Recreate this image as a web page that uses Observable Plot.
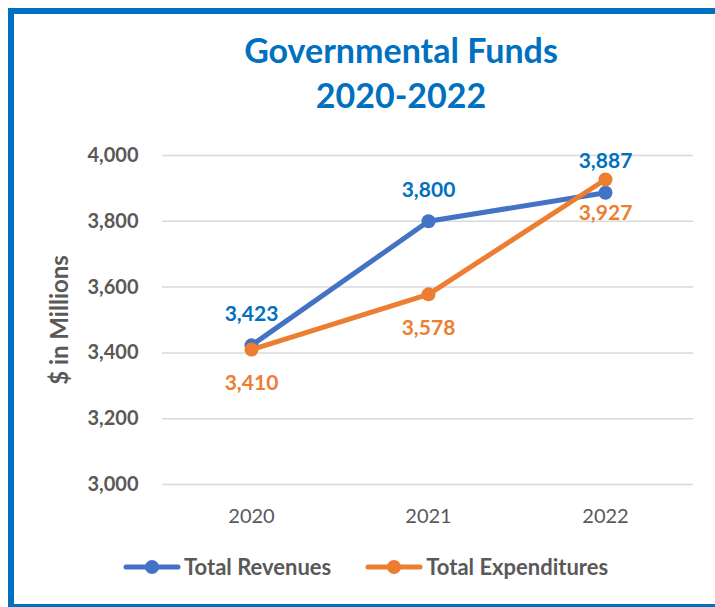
<!DOCTYPE html>
<html>
<head>
<meta charset="utf-8">
<script src="https://cdn.jsdelivr.net/npm/d3@7"></script>
<script src="https://cdn.jsdelivr.net/npm/@observablehq/plot@0.6"></script>
<style>
  html, body { margin: 0; padding: 0; background: #fff; overflow: hidden; }
  body { width: 715px; height: 607px; position: relative; font-family: Lato, "Open Sans", sans-serif; }
  #frame { position: absolute; left: 8px; top: 8px; width: 760px; height: 590px; border: 6px solid #0070C0; box-sizing: content-box; }
  #title { position: absolute; left: 151px; width: 500px; top: 27px; text-align: center; color: #0070C0; font-weight: 700; font-size: 34px; line-height: 45px; }
  #chart { position: absolute; left: 0; top: 0; }
  #legend { position: absolute; top: 553px; left: 123px; display: flex; align-items: center; color: #595959; font-weight: 700; font-size: 22px; }
  .item { display: flex; align-items: center; margin-right: 34px; }
  .item svg { margin-right: 3px; }
</style>
</head>
<body>
<div id="frame"></div>
<div id="title">Governmental Funds<br>2020-2022</div>
<div id="chart"></div>
<div id="legend"></div>
<script>
const years = ["2020", "2021", "2022"];
const revenues = [3423, 3800, 3887];
const expenditures = [3410, 3578, 3927];
const yTicks = [3000, 3200, 3400, 3600, 3800, 4000];
const seriesNames = ["Total Revenues", "Total Expenditures"];
const lineColors = ["#4472C4", "#ED7D31"];
const labelColors = ["#0070C0", "#ED7D31"];

const rev = years.map((y, i) => ({year: y, value: revenues[i]}));
const exp = years.map((y, i) => ({year: y, value: expenditures[i]}));
const fmt = d3.format(",");

const plot = Plot.plot({
  width: 715,
  height: 540,
  marginLeft: 162,
  marginRight: 22,
  marginTop: 155,
  marginBottom: 56,
  style: {fontFamily: "Lato, 'Open Sans', sans-serif", background: "transparent", overflow: "visible"},
  x: {type: "point", domain: years, padding: 0.5},
  y: {domain: [3000, 4000]},
  marks: [
    Plot.ruleY(yTicks, {stroke: "#d9d9d9", strokeWidth: 1.5}),
    Plot.axisY({ticks: yTicks, tickFormat: fmt, tickSize: 0, tickPadding: 24, fontSize: 20, fontWeight: 700, fill: "#595959", label: null}),
    Plot.axisX({tickSize: 0, tickPadding: 24, fontSize: 20, fill: "#595959", label: null}),
    Plot.text(["$ in Millions"], {frameAnchor: "left", textAnchor: "middle", dx: -102, rotate: -90, fontSize: 24, fontWeight: 700, fill: "#595959"}),
    Plot.line(rev, {x: "year", y: "value", stroke: lineColors[0], strokeWidth: 5}),
    Plot.dot(rev, {x: "year", y: "value", r: 7, fill: lineColors[0]}),
    Plot.line(exp, {x: "year", y: "value", stroke: lineColors[1], strokeWidth: 5}),
    Plot.dot(exp, {x: "year", y: "value", r: 7, fill: lineColors[1]}),
    Plot.text(rev, {x: "year", y: "value", text: d => fmt(d.value), dy: -31, fill: labelColors[0], fontSize: 21, fontWeight: 700}),
    Plot.text(exp, {x: "year", y: "value", text: d => fmt(d.value), dy: 34, fill: labelColors[1], fontSize: 21, fontWeight: 700})
  ]
});
document.getElementById("chart").appendChild(plot);

const legend = document.getElementById("legend");
seriesNames.forEach((name, i) => {
  const item = document.createElement("div");
  item.className = "item";
  item.innerHTML = `<svg width="58" height="16"><line x1="3" y1="8" x2="55" y2="8" stroke="${lineColors[i]}" stroke-width="5" stroke-linecap="round"/><circle cx="29" cy="8" r="7" fill="${lineColors[i]}"/></svg><span>${name}</span>`;
  legend.appendChild(item);
});
</script>
</body>
</html>
